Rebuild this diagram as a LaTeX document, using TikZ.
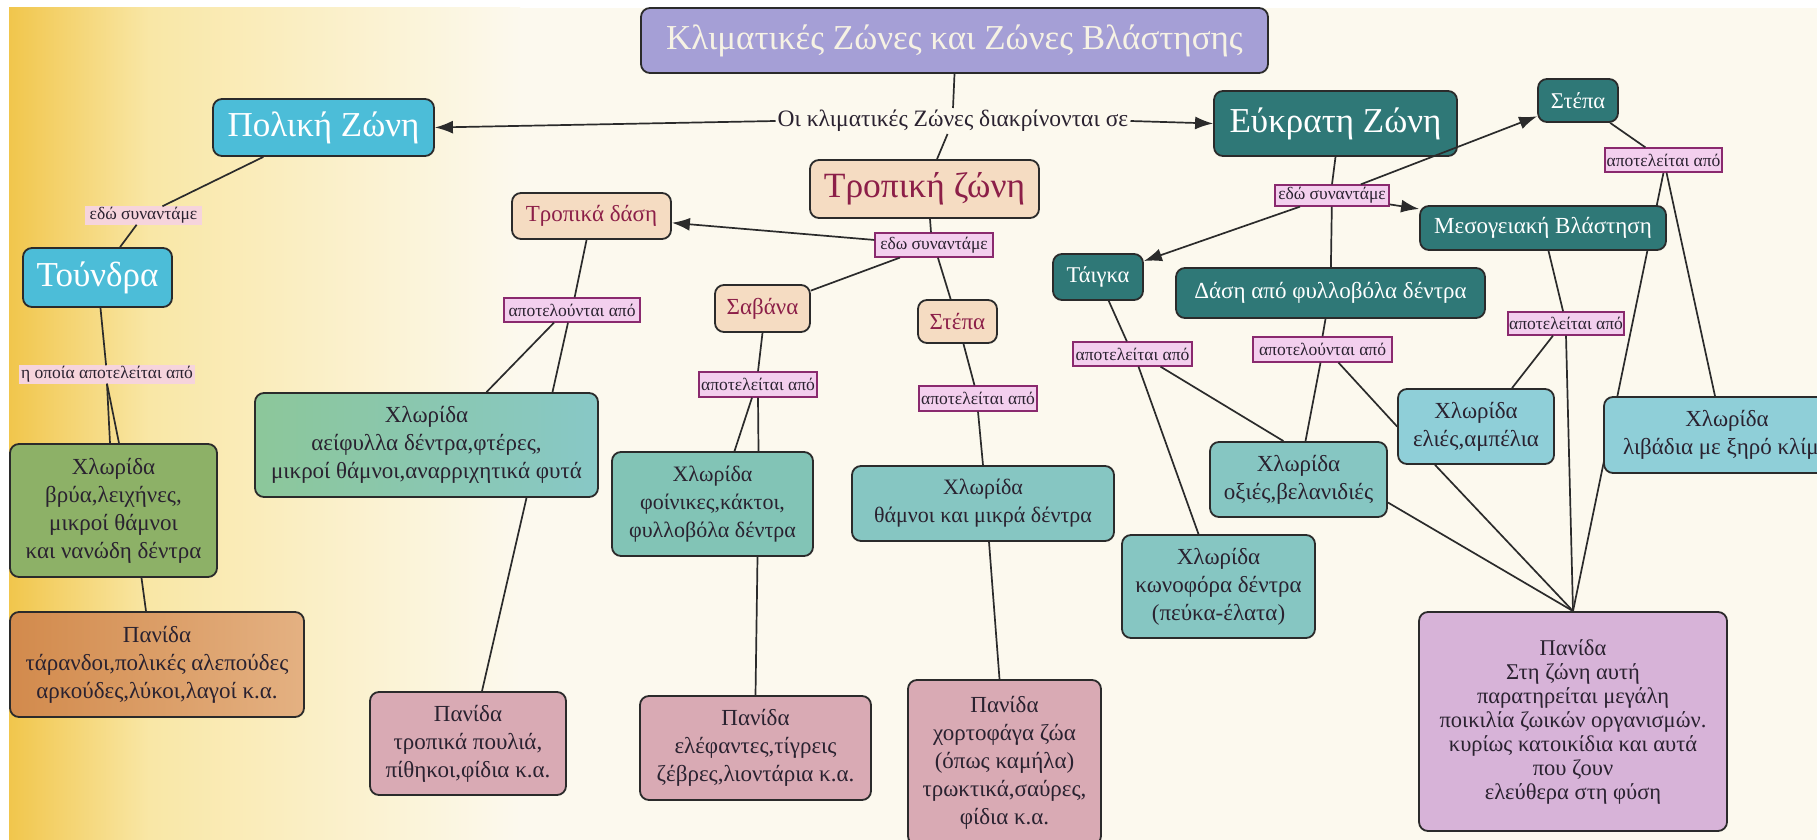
\documentclass[tikz,border=0pt]{standalone}
\usepackage{fontspec}
\setmainfont{Liberation Serif}
\usetikzlibrary{
  arrows.meta,
  backgrounds,  % Layer "background" for the line that runs under boxes
}
\pgfdeclarelayer{paper}
\pgfsetlayers{paper,background,main}

\definecolor{inkline}{HTML}{2B2B2B}
\definecolor{inktext}{HTML}{2A2230}
\definecolor{titlefill}{HTML}{A59FD6}
\definecolor{titletext}{HTML}{F6F2E4}
\definecolor{coldfill}{HTML}{4CBDD8}
\definecolor{tealfill}{HTML}{2F7877}
\definecolor{peachfill}{HTML}{F5DCC2}
\definecolor{peachtext}{HTML}{8C1F48}
\definecolor{linkfill}{HTML}{F3CFEE}
\definecolor{linkdraw}{HTML}{8A2A6E}
\definecolor{tagfill}{HTML}{F6D4DC}
\definecolor{mossfill}{HTML}{8DB167}
\definecolor{seafill}{HTML}{86C6C2}
\definecolor{leaffill}{HTML}{8CC79A}
\definecolor{palmfill}{HTML}{82C4B6}
\definecolor{skyfill}{HTML}{8FCFD8}
\definecolor{rosefill}{HTML}{D9AAB4}
\definecolor{lilacfill}{HTML}{D7B3D8}
\definecolor{clayleft}{HTML}{D28A4C}
\definecolor{clayright}{HTML}{E4B182}
\definecolor{papercol}{HTML}{FCF9EE}
\definecolor{sunny}{HTML}{F1C64C}
\definecolor{straw}{HTML}{F9E7A6}

\newcommand{\myfs}[2]{\fontsize{#1}{#2}\selectfont}

\tikzset{
  semithick,
  >={Latex[length=18pt,width=13pt]},
  wh/.style 2 args={
    minimum width=#1pt,
    minimum height=#2pt
  },
  my line/.style={
    draw=inkline,
    line width=1.7pt
  },
  my box/.style={
    draw=inkline,
    line width=1.8pt,
    rounded corners=9pt,
    align=center,
    inner sep=2pt
  },
  my title/.style={
    my box,
    fill=titlefill,
    text=titletext,
    font=\myfs{35}{40}
  },
  my cold/.style={
    my box,
    fill=coldfill,
    text=white,
    font=\myfs{35}{40}
  },
  my teal/.style={
    my box,
    fill=tealfill,
    text=white,
    font=\myfs{23}{27}
  },
  my tropic/.style={
    my box,
    fill=peachfill,
    text=peachtext,
    font=\myfs{23}{27}
  },
  my flora/.style={
    my box,
    fill=#1,
    text=inktext,
    font=\myfs{23}{28}
  },
  my flora/.default=seafill,
  my fauna/.style={
    my box,
    fill=#1,
    text=inktext,
    font=\myfs{23}{28}
  },
  my fauna/.default=rosefill,
  my link/.style={
    draw=linkdraw,
    fill=linkfill,
    line width=1.3pt,
    inner sep=1pt,
    text=inktext,
    font=\myfs{17.5}{19}
  },
  my tag/.style={
    fill=tagfill,
    inner sep=1pt,
    text=inktext,
    font=\myfs{17.5}{19}
  }
}

\begin{document}
\begin{tikzpicture}[x=1pt,y=-1pt,color=inkline]
\useasboundingbox (0,0) rectangle (1817,840);
\begin{pgfonlayer}{paper}
  \fill[white] (0,0) rectangle (1817,840);
  \shade[left color=sunny,right color=straw] (9,8) rectangle (150,840);
  \shade[left color=straw,right color=papercol] (150,8) rectangle (520,840);
  \fill[papercol] (520,8) rectangle (1817,840);
\end{pgfonlayer}

% top
\node[my title,wh={627}{65}] (title) at (954.5,40.5) {Κλιματικές Ζώνες και Ζώνες Βλάστησης};
\node[inner sep=2pt,text=inktext,font=\myfs{23.5}{26}] (dist) at (953,121) {Οι κλιματικές Ζώνες διακρίνονται σε};
\node[my cold,wh={221}{57}] (polar) at (323.5,127.5) {Πολική Ζώνη};
\node[my teal,wh={243}{65},font=\myfs{35}{40}] (temp) at (1335.5,123.5) {Εύκρατη Ζώνη};
\node[my tropic,wh={229}{58},font=\myfs{35.5}{40}] (trop) at (924.5,189) {Τροπική ζώνη};

% polar zone
\node[my tag,wh={117}{18}] (tag1) at (143.5,215.5) {εδώ συναντάμε};
\node[my cold,wh={149}{59}] (tundra) at (97.5,277.5) {Τούνδρα};
\node[my tag,wh={176}{18}] (tag2) at (107,374.5) {η οποία αποτελείται από};
\node[my flora=mossfill,wh={207}{133}] (flora1) at (113.5,510.5)
  {Χλωρίδα\\βρύα,λειχήνες,\\μικροί θάμνοι\\και νανώδη δέντρα};
\node[my fauna,left color=clayleft,right color=clayright,wh={294}{105}] (fauna1) at (157,664.5)
  {Πανίδα\\τάρανδοι,πολικές αλεπούδες\\αρκούδες,λύκοι,λαγοί κ.α.};

% tropical zone
\node[my link,wh={118}{24}] (link1) at (934,245) {εδω συναντάμε};
\node[my tropic,wh={159}{46}] (forest) at (591.5,216) {Τροπικά δάση};
\node[my tropic,wh={95}{47}] (savanna) at (762.5,308.5) {Σαβάνα};
\node[my tropic,wh={79}{43}] (steppe) at (957.5,321.5) {Στέπα};
\node[my link,wh={136}{24}] (link2) at (572,310) {αποτελούνται από};
\node[my link,wh={118}{25}] (link3) at (758,384.5) {αποτελείται από};
\node[my link,wh={118}{25}] (link4) at (978,398.5) {αποτελείται από};
\node[my flora,left color=leaffill,right color=seafill!80!skyfill,wh={343}{104}] (flora2) at (426.5,445)
  {Χλωρίδα\\αείφυλλα δέντρα,φτέρες,\\μικροί θάμνοι,αναρριχητικά φυτά};
\node[my flora=palmfill,wh={201}{104},font=\myfs{22}{28}] (flora3) at (712.5,504)
  {Χλωρίδα\\φοίνικες,κάκτοι,\\φυλλοβόλα δέντρα};
\node[my flora,wh={262}{75},font=\myfs{22}{28}] (flora4) at (983,503.5) {Χλωρίδα\\θάμνοι και μικρά δέντρα};
\node[my fauna,wh={196}{103}] (fauna2) at (468,743.5) {Πανίδα\\τροπικά πουλιά,\\πίθηκοι,φίδια κ.α.};
\node[my fauna,wh={231}{104}] (fauna3) at (755.5,748) {Πανίδα\\ελέφαντες,τίγρεις\\ζέβρες,λιοντάρια κ.α.};
\node[my fauna,wh={193}{165}] (fauna4) at (1004.5,762.5)
  {Πανίδα\\χορτοφάγα ζώα\\(όπως καμήλα)\\τρωκτικά,σαύρες,\\φίδια κ.α.};

% temperate zone
\node[my link,wh={114}{21}] (link5) at (1332,195.5) {εδώ συναντάμε};
\node[my teal,wh={80}{43},font=\myfs{22.5}{26}] (steppe2) at (1578,100.5) {Στέπα};
\node[my teal,wh={246}{44}] (medit) at (1543,228) {Μεσογειακή Βλάστηση};
\node[my teal,wh={90}{46},font=\myfs{22.5}{26}] (taiga) at (1098,277) {Τάιγκα};
\node[my teal,wh={309}{50}] (decid) at (1330.5,293) {Δάση από φυλλοβόλα δέντρα};
\node[my link,wh={117}{24}] (link6) at (1663.5,160) {αποτελείται από};
\node[my link,wh={116}{23}] (link7) at (1566,323.5) {αποτελείται από};
\node[my link,wh={119}{24}] (link8) at (1132.5,354) {αποτελείται από};
\node[my link,wh={139}{25}] (link9) at (1322.5,349.5) {αποτελούνται από};
\node[my flora,wh={193}{103}] (conif) at (1218.5,586.5) {Χλωρίδα\\κωνοφόρα δέντρα\\(πεύκα-έλατα)};
\node[my flora,wh={177}{75}] (beech) at (1298.5,479.5) {Χλωρίδα\\οξιές,βελανιδιές};
\node[my flora=skyfill,wh={156}{75}] (olive) at (1476,426.5) {Χλωρίδα\\ελιές,αμπέλια};
\node[my flora=skyfill,wh={246}{76}] (pasture) at (1727,435) {Χλωρίδα\\λιβάδια με ξηρό κλίμα};
\node[my fauna=lilacfill,wh={308}{219},font=\myfs{22.5}{24}] (fauna5) at (1573,721.5)
  {Πανίδα\\Στη ζώνη αυτή\\παρατηρείται μεγάλη\\ποικιλία ζωικών οργανισμών.\\κυρίως κατοικίδια και αυτά\\που ζουν\\ελεύθερα στη φύση};

% connectors
\draw[my line] (title.south) -- (dist.north);
\draw[my line,->] (dist.west) -- (polar.east);
\draw[my line,->] (dist.east) -- (temp.west);
\draw[my line] (dist) -- (trop);

\draw[my line] (polar) -- (tag1);
\draw[my line] (tag1) -- (tundra);
\draw[my line] (tundra) -- (tag2);
\draw[my line] (tag2.south) -- ([xshift=-3.5pt]flora1.north);
\draw[my line] (tag2.south) -- ([xshift=5.5pt]flora1.north);
\draw[my line] ([xshift=28pt]flora1.south) -- ([xshift=-11pt]fauna1.north);

\draw[my line] ([xshift=5.5pt]trop.south) -- ([xshift=-3pt]link1.north);
\draw[my line,->] (link1) -- (forest);
\draw[my line] (link1) -- (savanna);
\draw[my line] (link1) -- (steppe);
\draw[my line] (forest) -- (link2);
\draw[my line] ([xshift=-18pt]link2.south) -- ([xshift=60pt]flora2.north);
\draw[my line] ([xshift=-4pt]link2.south) -- ([xshift=126pt]flora2.north);
\draw[my line] ([xshift=100pt]flora2.south) -- ([xshift=14pt]fauna2.north);
\draw[my line] (savanna.south) -- (link3.north);
\draw[my line] ([xshift=-6pt]link3.south) -- ([xshift=22pt]flora3.north);
\draw[my line] (link3.south) -- ([xshift=46pt]flora3.north);
\draw[my line] ([xshift=45pt]flora3.south) -- (fauna3.north);
\draw[my line] (steppe) -- (link4);
\draw[my line] (link4.south) -- (flora4.north);
\draw[my line] ([xshift=6pt]flora4.south) -- ([xshift=-5pt]fauna4.north);

\draw[my line] (temp.south) -- (link5.north);
\draw[my line,->] (link5) -- (steppe2);
\draw[my line,->] (link5) -- (medit);
\draw[my line,->] (link5) -- (taiga);
\draw[my line] (link5) -- (decid);
\draw[my line] (steppe2) -- (link6);
\draw[my line] ([xshift=3pt]link6.south) -- ([xshift=-12pt]pasture.north);
\begin{pgfonlayer}{background}
  \draw[my line] (link6.south) -- (fauna5.north);
\end{pgfonlayer}
\draw[my line] (medit) -- (link7);
\draw[my line] ([xshift=-13pt]link7.south) -- ([xshift=36pt]olive.north);
\draw[my line] (link7.south) -- (fauna5.north);
\draw[my line] (taiga) -- (link8);
\draw[my line] ([xshift=6pt]link8.south) -- ([xshift=-20pt]conif.north);
\draw[my line] ([xshift=28pt]link8.south) -- ([xshift=-15pt]beech.north);
\draw[my line] ([xshift=-5pt]decid.south) -- (link9.north);
\draw[my line] ([xshift=-2pt]link9.south) -- ([xshift=7pt]beech.north);
\draw[my line] ([xshift=16pt]link9.south) -- (olive.west);
\draw[my line] ([yshift=-23pt]beech.east) -- (fauna5.north);
\draw[my line] ([xshift=-41pt]olive.south) -- (fauna5.north);
\end{tikzpicture}
\end{document}
